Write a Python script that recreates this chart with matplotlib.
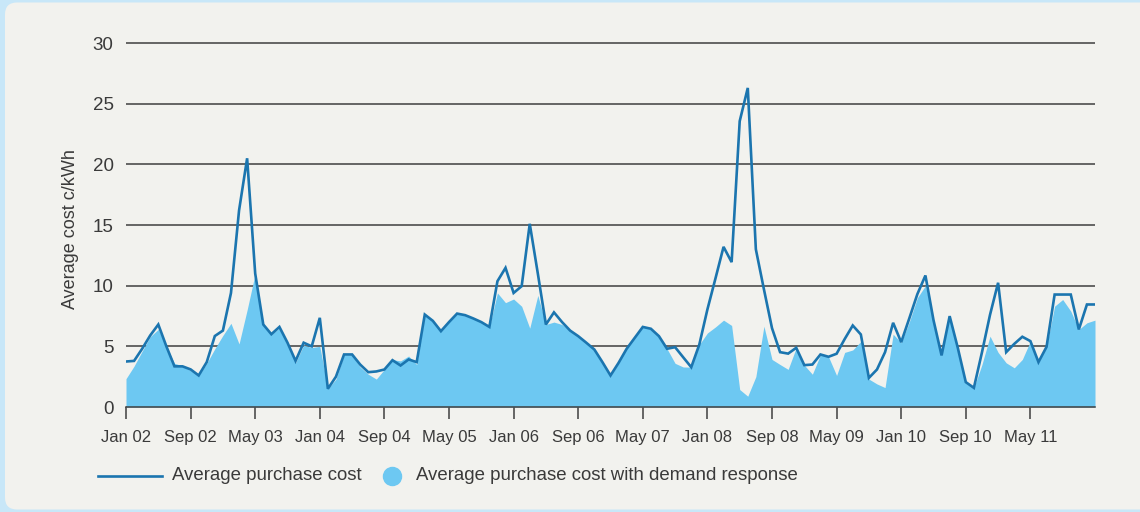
import matplotlib
matplotlib.use("Agg")
import matplotlib.pyplot as plt
from matplotlib.lines import Line2D
from matplotlib.patches import FancyBboxPatch
import numpy as np

# Datos mensuales Jan 02 .. Jan 12 (c/kWh)
costo_compra = [3.75, 3.8, 4.8, 5.9, 6.8, 5.0, 3.35, 3.35, 3.1, 2.6,
                3.7, 5.85, 6.3, 9.4, 16.2, 20.5, 11.0, 6.8, 6.0, 6.6,
                5.3, 3.8, 5.3, 5.0, 7.35, 1.5, 2.5, 4.33, 4.33, 3.5,
                2.87, 2.93, 3.09, 3.86, 3.42, 3.92, 3.7, 7.62, 7.1, 6.25,
                7.0, 7.7, 7.57, 7.3, 7.0, 6.6, 10.37, 11.47, 9.4, 9.96,
                15.1, 11.0, 6.8, 7.8, 7.0, 6.3, 5.84, 5.3, 4.74, 3.7,
                2.6, 3.64, 4.8, 5.7, 6.6, 6.45, 5.84, 4.8, 4.93, 4.1,
                3.28, 5.15, 8.04, 10.6, 13.2, 11.94, 23.56, 26.3, 13.0, 9.7,
                6.5, 4.52, 4.4, 4.88, 3.45, 3.5, 4.33, 4.14, 4.39, 5.6,
                6.72, 5.98, 2.4, 3.09, 4.52, 6.94, 5.34, 7.3, 9.3, 10.84,
                7.16, 4.25, 7.49, 4.9, 2.05, 1.58, 4.5, 7.6, 10.24, 4.52,
                5.2, 5.79, 5.43, 3.7, 4.96, 9.27, 9.27, 9.27, 6.39, 8.45,
                8.45]

costo_demanda = [2.33, 3.37, 4.6, 5.8, 6.4, 5.0, 3.6, 3.4, 3.0, 2.6,
                 3.6, 4.8, 5.9, 6.9, 5.2, 8.0, 11.0, 6.8, 6.0, 6.5,
                 5.2, 3.65, 5.1, 4.9, 5.0, 1.5, 2.3, 4.3, 4.3, 3.3,
                 2.7, 2.3, 3.1, 3.9, 3.8, 4.2, 3.5, 7.6, 7.1, 6.25,
                 7.0, 7.7, 7.57, 7.3, 7.0, 6.6, 9.4, 8.6, 8.9, 8.3,
                 6.5, 9.2, 6.8, 7.0, 6.8, 6.3, 5.84, 5.3, 4.74, 3.7,
                 2.6, 3.64, 4.9, 5.8, 6.6, 6.45, 5.84, 4.8, 3.6, 3.3,
                 3.28, 5.15, 6.1, 6.6, 7.16, 6.72, 1.44, 0.89, 2.5, 6.66,
                 3.92, 3.5, 3.1, 4.88, 3.45, 2.7, 4.3, 4.14, 2.6, 4.5,
                 4.7, 5.4, 2.3, 1.9, 1.6, 6.0, 5.3, 7.0, 9.0, 10.0,
                 7.16, 4.25, 7.49, 4.9, 2.0, 1.58, 3.5, 5.84, 4.5, 3.64,
                 3.23, 3.92, 5.43, 3.7, 4.96, 8.31, 8.86, 7.9, 6.39, 6.94,
                 7.16]

etiquetas_x = ["Jan 02", "Sep 02", "May 03", "Jan 04", "Sep 04", "May 05",
               "Jan 06", "Sep 06", "May 07", "Jan 08", "Sep 08", "May 09",
               "Jan 10", "Sep 10", "May 11"]
pos_x = list(range(0, 113, 8))
meses = np.arange(len(costo_compra))

# Colores
fondo = "#F2F2EE"
borde = "#C8E7F8"
azul_linea = "#1B75AF"
azul_relleno = "#6DC8F2"
gris_texto = "#3A3A3A"
gris_rejilla = "#3F3F3F"

plt.rcParams["font.family"] = ["Liberation Sans", "DejaVu Sans"]

fig = plt.figure(figsize=(11.4, 5.12), dpi=100)
fig.patch.set_facecolor(borde)

# Panel gris con esquinas redondeadas
panel = FancyBboxPatch((0.05, 0.025), 11.6, 5.07,
                       boxstyle="round,pad=0,rounding_size=0.12",
                       transform=fig.dpi_scale_trans,
                       facecolor=fondo, edgecolor="none", zorder=-5)
fig.patches.append(panel)

ax = fig.add_axes([126 / 1140, 1 - 407 / 512, 969 / 1140, (407 - 40.6) / 512])
ax.set_zorder(2)
ax.set_facecolor("none")

# Relleno y linea
ax.fill_between(meses, 0, costo_demanda, color=azul_relleno, lw=0, zorder=2)
ax.plot(meses, costo_compra, color=azul_linea, lw=1.9, zorder=3,
        solid_joinstyle="miter")

ax.set_xlim(0, 120)
ax.set_ylim(0, 30.2)

# Cuadricula
ax.set_yticks(range(0, 31, 5))
ax.grid(axis="y", color=gris_rejilla, lw=1.1, zorder=1)
ax.set_axisbelow(True)

for lado in ["top", "right", "left"]:
    ax.spines[lado].set_visible(False)
ax.spines["bottom"].set_color(gris_rejilla)
ax.spines["bottom"].set_linewidth(1.1)
ax.spines["bottom"].set_zorder(4)

ax.set_xticks(pos_x)
ax.set_xticklabels(etiquetas_x)
ax.tick_params(axis="x", direction="out", length=8.5, width=1.1,
               color=gris_rejilla, pad=8, labelsize=12, labelcolor=gris_texto)
ax.tick_params(axis="y", length=0, pad=9, labelsize=13.5, labelcolor=gris_texto)

ax.set_ylabel("Average cost c/kWh", fontsize=13, color=gris_texto)
ax.yaxis.set_label_coords(-0.048, 0.486)

# Leyenda manual
y_ley = 1 - 476 / 512
fig.add_artist(Line2D([98 / 1140, 162 / 1140], [y_ley, y_ley],
                      color=azul_linea, lw=1.9, transform=fig.transFigure))
fig.text(172 / 1140, y_ley, "Average purchase cost", fontsize=13.4,
         color=gris_texto, va="center", ha="left")
fig.add_artist(Line2D([392 / 1140], [y_ley], marker="o", markersize=13,
                      color=azul_relleno, lw=0, transform=fig.transFigure))
fig.text(416 / 1140, y_ley, "Average purchase cost with demand response",
         fontsize=13.4, color=gris_texto, va="center", ha="left")

plt.savefig("out.png", dpi=100, facecolor=fig.get_facecolor())
